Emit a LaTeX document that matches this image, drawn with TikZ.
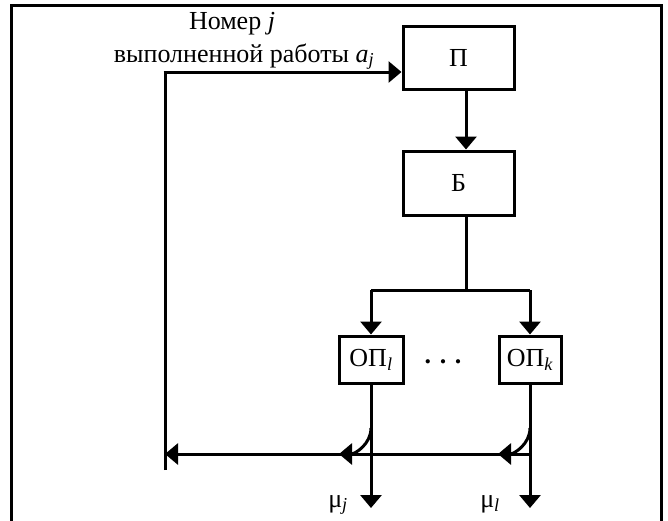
\documentclass[tikz,border=0pt]{standalone}
\usepackage{fontspec}
\setmainfont{Liberation Serif}
\usetikzlibrary{arrows.meta}
\newcommand{\sub}[1]{\textsubscript{\textit{#1}}}
\tikzset{
  x=1pt, y=-1pt,
  wire/.style={line width=3pt},
  arr/.style={wire, -{Triangle[width=21pt,length=13pt]}},
  block/.style={draw, line width=3pt, rectangle, inner sep=0pt, font=\fontsize{26}{30}\selectfont},
  txt/.style={font=\fontsize{26}{30}\selectfont, inner sep=0pt}
}
\begin{document}
\begin{tikzpicture}
\useasboundingbox (0,0) rectangle (668,520);
% outer frame, open at the bottom
\draw[line width=3pt] (11,522) -- (11,5.5) -- (661,5.5) -- (661,522);

% blocks
\node[block, minimum width=111pt, minimum height=63pt] (P) at (458.5,57.5) {П};
\node[block, minimum width=111pt, minimum height=64pt] (B) at (458.5,183) {Б};
\node[block, minimum width=64pt, minimum height=47pt] (OPl) at (371,359.5) {ОП\sub{l}};
\node[block, minimum width=62pt, minimum height=47pt] (OPk) at (530,359.5) {ОП\sub{k}};
\node[txt, font=\fontsize{26}{30}\selectfont] (dots) at (443,362) {\textbf{. . .}};

% label of the feedback input
\node[txt, anchor=base] (lbl1) at (232,29) {Номер \textit{j}};
\node[txt, anchor=base] (lbl2) at (244,62) {выполненной работы \textit{a}\sub{j}};

% junction points
\coordinate (split) at (466,290);
\coordinate (sl) at (371,290);
\coordinate (sr) at (530,290);
\coordinate (fbR) at (530,454);
\coordinate (fbL) at (165,454);
\coordinate (fbBot) at (165,470);
\coordinate (fbTop) at (165,72);
\coordinate (outL) at (371,508);
\coordinate (outR) at (530,508);
\coordinate (tapL) at (371,428);
\coordinate (tapR) at (530,428);
\coordinate (mrgL) at (339,454);
\coordinate (mrgR) at (498,454);

% forward path
\draw[arr] (P.south -| split) -- (B.north -| split);
\draw[wire] (B.south -| split) -- (split);
\draw[wire] (sl) -- (sr);
\draw[arr] (sl) -- (OPl.north);
\draw[arr] (sr) -- (OPk.north);

% outputs
\draw[arr] (OPl.south) -- (outL);
\draw[arr] (OPk.south) -- (outR);
\node[txt, anchor=base] (muj) at (338,507) {μ\sub{j}};
\node[txt, anchor=base] (mul) at (490,507) {μ\sub{l}};

% feedback
\draw[arr] (fbR) -- (fbL);
\draw[arr] (tapL) to[out=-90, in=0] (mrgL);
\draw[arr] (tapR) to[out=-90, in=0] (mrgR);
\draw[wire] (fbBot) -- (fbTop);
\draw[arr] ([xshift=-1.5pt]fbTop) -- (P.west |- fbTop);
\end{tikzpicture}
\end{document}
